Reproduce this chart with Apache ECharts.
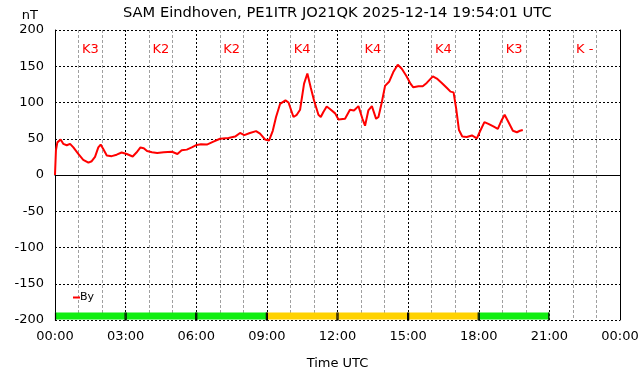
<!DOCTYPE html>
<html><head><meta charset="utf-8">
<script src="https://cdn.jsdelivr.net/npm/echarts@6/dist/echarts.min.js"></script>
<style>html,body{margin:0;padding:0;background:#fff}#c{width:642px;height:376px}</style>
</head><body><div id="c"></div>
<script>
const titleText = 'SAM Eindhoven, PE1ITR JO21QK 2025-12-14 19:54:01 UTC';
const xTickLabels = ['00:00','03:00','06:00','09:00','12:00','15:00','18:00','21:00','00:00'];
const yTicks = [-200,-150,-100,-50,0,50,100,150,200];
const times = [0.00,0.04,0.10,0.24,0.35,0.50,0.64,0.78,0.99,1.20,1.42,1.56,1.70,1.84,1.94,2.05,2.20,2.41,2.62,2.83,3.05,3.30,3.46,3.63,3.77,3.91,4.12,4.34,4.62,4.97,5.20,5.38,5.60,5.81,6.02,6.20,6.45,6.73,7.01,7.37,7.65,7.86,8.04,8.28,8.54,8.71,8.92,9.09,9.25,9.39,9.56,9.79,9.92,10.13,10.27,10.41,10.58,10.72,10.86,11.00,11.19,11.29,11.40,11.54,11.68,11.90,12.04,12.32,12.53,12.70,12.89,12.96,13.06,13.17,13.31,13.46,13.64,13.74,13.88,14.02,14.20,14.37,14.56,14.73,14.92,15.10,15.22,15.44,15.62,15.79,16.05,16.22,16.43,16.65,16.80,16.93,17.04,17.16,17.30,17.49,17.71,17.92,18.05,18.24,18.41,18.62,18.81,18.95,19.10,19.26,19.45,19.62,19.75,19.87];
const byValues = [0,34,45,49,43,41,43,38,29,21,17,19,25,38,42,36,27,26,28,31,29,25.5,31,38,37,33,31.5,30.5,31.5,32,29,34,35,38,41.5,42.5,42,46,50,51,53,58,55,58,60.5,57,49,47.5,61,80,98,103,100,80,83,90,126,140,121,103,83,80,87,94.5,91,85,76.5,77.5,90,89,95,97,77.5,68,89,95,77.5,80,100,123,129,142,152,146.5,137,126,121,122.5,122.5,127,136,133,127,120,115,114,92,62,53,52.5,54.5,50.5,60,73,70.5,67,63.5,74,83,73,61,59,61,62];
const kLabels = ['K3','K2','K2','K4','K4','K4','K3','K -'];
const kIndex = [3,2,2,4,4,4,3,null];
const kBlockHours = 3;

const FONT = 'DejaVu Sans';
function kColor(k){ return k >= 4 ? '#ffd200' : '#11ee11'; }

const chart = echarts.init(document.getElementById('c'), null, {renderer:'canvas'});
chart.setOption({
  animation:false,
  backgroundColor:'#fff',
  textStyle:{fontFamily:FONT},
  title:{text:titleText, left:118, top:1, textStyle:{fontFamily:FONT, fontSize:14.67, fontWeight:'normal', color:'#000'}},
  grid:{left:55, right:22, top:30, bottom:56},
  legend:{data:['By'], left:68, top:287, icon:'rect', itemWidth:7, itemHeight:2, itemGap:2,
    textStyle:{fontFamily:FONT, fontSize:11, color:'#000', padding:[0,0,0,-5]}},
  xAxis:[{
    type:'value', min:0, max:24, interval:3,
    name:'Time UTC', nameLocation:'middle', nameGap:37,
    nameTextStyle:{fontFamily:FONT, fontSize:13, color:'#000'},
    axisLine:{show:false}, axisTick:{show:false},
    axisLabel:{fontFamily:FONT, fontSize:13, color:'#000', margin:10,
      formatter:v => xTickLabels[Math.round(v / 3)]},
    splitLine:{show:true, lineStyle:{color:'#000', type:[2,2], width:1}},
    minorTick:{show:false, splitNumber:3},
    minorSplitLine:{show:true, lineStyle:{color:'#a0a0a0', type:[3,2], width:1}}
  },{
    type:'value', min:0, max:24, position:'top',
    axisLine:{show:true, lineStyle:{color:'#000', width:1}},
    axisTick:{show:false}, axisLabel:{show:false}, splitLine:{show:false}
  }],
  yAxis:[{
    type:'value', min:-200, max:200, interval:50,
    name:'nT', nameLocation:'end', nameGap:8,
    nameTextStyle:{fontFamily:FONT, fontSize:13, color:'#000', align:'right', padding:[0,17,0,0]},
    axisLine:{show:true, onZero:false, lineStyle:{color:'#000', width:1}},
    axisTick:{show:false},
    axisLabel:{fontFamily:FONT, fontSize:13, color:'#000', margin:11,
      formatter:v => String(yTicks[yTicks.indexOf(v)])},
    splitLine:{show:true, lineStyle:{color:'#000', type:[2,2], width:1}}
  },{
    type:'value', min:-200, max:200, position:'right',
    axisLine:{show:true, onZero:false, lineStyle:{color:'#000', width:1}},
    axisTick:{show:false}, axisLabel:{show:false}, splitLine:{show:false}
  }],
  series:[{
    type:'custom', name:'kbars', silent:true, z:1,
    data: kIndex.map((k,i)=>[i*kBlockHours, (i+1)*kBlockHours, k === null ? -1 : k]),
    renderItem:(params, api)=>{
      const k = api.value(2);
      if (k < 0) return null;
      const p0 = api.coord([api.value(0), -189.5]);
      const p1 = api.coord([api.value(1), -199.3]);
      return {type:'group', children:[
        {type:'rect', shape:{x:p0[0], y:p0[1], width:p1[0]-p0[0], height:p1[1]-p0[1]}, style:{fill:kColor(k)}},
        {type:'line', shape:{x1:p0[0]+0.5, y1:p0[1], x2:p0[0]+0.5, y2:p1[1]+1}, style:{stroke:'#000', lineWidth:1.2}},
        {type:'line', shape:{x1:p1[0]-0.5, y1:p0[1], x2:p1[0]-0.5, y2:p1[1]+1}, style:{stroke:'#000', lineWidth:1.2}}
      ]};
    }
  },{
    type:'custom', name:'klabels', silent:true, z:3,
    data: kLabels.map((l,i)=>[(i+0.5)*kBlockHours, 173, l]),
    renderItem:(params, api)=>{
      const p = api.coord([api.value(0), api.value(1)]);
      return {type:'text', x:p[0], y:p[1], style:{text:kLabels[params.dataIndex], fill:'#ff0000', font:'13px "DejaVu Sans"', align:'center', verticalAlign:'middle'}};
    }
  },{
    type:'line', name:'By', z:5,
    data: times.map((t,i)=>[t, byValues[i]]),
    showSymbol:false, symbol:'none',
    lineStyle:{color:'#ff0000', width:2},
    itemStyle:{color:'#ff0000'}
  }]
});
</script></body></html>
